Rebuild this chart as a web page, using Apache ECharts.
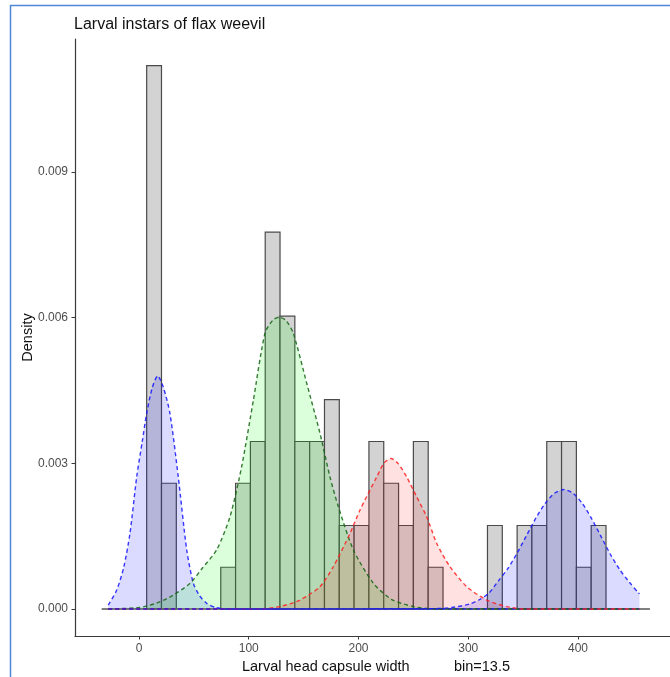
<!DOCTYPE html>
<html>
<head>
<meta charset="utf-8">
<script src="https://cdn.jsdelivr.net/npm/echarts@6/dist/echarts.min.js"></script>
<style>
  html, body { margin: 0; padding: 0; background: #ffffff; }
  #chart { width: 670px; height: 677px; }
</style>
</head>
<body>
<div id="chart"></div>
<script>
// Histogram of larval head capsule widths (density scale, bin width 13.5)
const binStart = 7;
const binWidth = 13.5;
const histDensity = [
  0.01119, 0.00259, 0, 0, 0, 0.00086, 0.00259, 0.00345, 0.00776, 0.00603,
  0.00345, 0.00345, 0.00431, 0.00172, 0.00172, 0.00345, 0.00259, 0.00172, 0.00345, 0.00086,
  0, 0, 0, 0.00172, 0, 0.00172, 0.00172, 0.00345, 0.00345, 0.00086,
  0.00172
];

// Instar density curves (x = capsule width, y = density)
const instar1X = [-28, -20.3, -14, -8.2, -2.1, 3, 7, 12, 17, 22, 28.2, 35.8, 43.5, 49.5, 55, 61.7, 70, 80, 456];
const instar1Y = [0.00008, 0.00039, 0.00085, 0.00156, 0.00272, 0.00345, 0.00403, 0.00455, 0.00480,
  0.00458, 0.00403, 0.00272, 0.001215, 0.00053, 0.00028, 0.000117, 0.00003, 0, 0];

const instar2X = [-28, 0, 16, 30, 46.5, 58, 70.8, 82.9, 93.5, 104.2, 114.8, 122, 128, 134, 140.6, 152.8, 164.9, 174, 181.6, 195.3, 213.5, 230, 250, 270, 456];
const instar2Y = [0, 0.00003, 0.00012, 0.00027, 0.00053, 0.00085, 0.00122, 0.00190, 0.00293, 0.00430, 0.00568, 0.00595, 0.00601,
  0.00594, 0.00568, 0.00465, 0.00362, 0.00272, 0.00211, 0.00122, 0.00053, 0.00020, 0.00005, 0, 0];

const instar3X = [-28, 110, 130, 146.7, 164.9, 177, 192.3, 201.4, 216.6, 223, 229.6, 236, 243.9, 253, 262.1, 271.3, 283.4, 298.6, 316.8, 335, 350, 456];
const instar3Y = [0, 0, 0.00006, 0.000185, 0.00046, 0.00087, 0.00156, 0.00204, 0.00272, 0.00300, 0.00310,
  0.00300, 0.00272, 0.00231, 0.00190, 0.00135, 0.00087, 0.00046, 0.000185, 0.00005, 0, 0];

const instar4X = [-28, 268, 285, 302, 310.5, 319, 327.5, 336, 344.5, 353, 361.5, 370, 378.5, 387, 395.5, 404, 412.5, 421, 429.5, 438, 446.5, 455, 456];
const instar4Y = [0, 0.000007, 0.000031, 0.000108, 0.000196, 0.000333, 0.000580, 0.000830, 0.001150, 0.001510, 0.001870, 0.002171, 0.002384, 0.00246,
  0.002384, 0.002171, 0.001857, 0.001492, 0.001126, 0.000810, 0.000560, 0.000333, 0.000313];

const baselineX = [-34, 465.5];

const xTicks = [0, 100, 200, 300, 400];
const yTicks = [0, 0.003, 0.006, 0.009];

const zip = (xs, ys) => xs.map((x, i) => [x, ys[i]]);

const histData = histDensity
  .map((d, i) => [binStart + i * binWidth, binStart + (i + 1) * binWidth, d])
  .filter(r => r[2] > 0);

function curveSeries(name, xs, ys, lineColor, fillColor) {
  return {
    name: name,
    type: 'line',
    data: zip(xs, ys),
    showSymbol: false,
    symbol: 'none',
    smooth: 0.25,
    lineStyle: { color: lineColor, width: 1.4, type: [4, 3] },
    areaStyle: { color: fillColor, origin: 0 },
    silent: true,
    z: 3
  };
}

const chart = echarts.init(document.getElementById('chart'), null, { renderer: 'canvas' });

chart.setOption({
  animation: false,
  backgroundColor: '#ffffff',
  title: {
    text: 'Larval instars of flax weevil',
    left: 69,
    top: 12,
    textStyle: { fontFamily: 'Liberation Sans', fontSize: 16, fontWeight: 'normal', color: '#111' }
  },
  grid: {
    left: 75, right: 0, top: 39, bottom: 41,
    containLabel: false,
    outerBoundsMode: 'none'
  },
  xAxis: {
    type: 'value',
    min: -58.3,
    max: 483.8,
    name: 'Larval head capsule width           bin=13.5',
    nameLocation: 'middle',
    nameGap: 23,
    nameMoveOverlap: false,
    nameTextStyle: { fontFamily: 'Liberation Sans', fontSize: 14.5, color: '#111', padding: [0, 0, 0, 7] },
    axisLine: { show: true, onZero: false, lineStyle: { color: '#3a3a3a', width: 1.2 } },
    axisTick: { show: true, length: 3.5, customValues: xTicks, lineStyle: { color: '#3a3a3a', width: 1 } },
    axisLabel: { customValues: xTicks, margin: 7, fontFamily: 'Liberation Sans', fontSize: 12, color: '#4d4d4d' },
    splitLine: { show: false }
  },
  yAxis: {
    type: 'value',
    min: -0.000556,
    max: 0.011739,
    name: 'Density',
    nameLocation: 'middle',
    nameGap: 40,
    nameRotate: 90,
    nameMoveOverlap: false,
    nameTextStyle: { fontFamily: 'Liberation Sans', fontSize: 14.5, color: '#111' },
    axisLine: { show: true, onZero: false, lineStyle: { color: '#3a3a3a', width: 1.2 } },
    axisTick: { show: true, length: 3.5, customValues: yTicks, lineStyle: { color: '#3a3a3a', width: 1 } },
    axisLabel: {
      customValues: yTicks, margin: 7, fontFamily: 'Liberation Sans', fontSize: 12, color: '#4d4d4d',
      formatter: v => v.toFixed(3)
    },
    splitLine: { show: false }
  },
  graphic: [
    { type: 'line', shape: { x1: 10.5, y1: 5, x2: 10.5, y2: 677 }, style: { stroke: '#4f86d9', lineWidth: 1.5 }, silent: true },
    { type: 'line', shape: { x1: 10, y1: 5.5, x2: 670, y2: 5.5 }, style: { stroke: '#4f86d9', lineWidth: 1.5 }, silent: true }
  ],
  series: [
    {
      name: 'histogram',
      type: 'custom',
      data: histData,
      encode: { x: [0, 1], y: 2 },
      silent: true,
      z: 1,
      renderItem: function (params, api) {
        const p0 = api.coord([api.value(0), api.value(2)]);
        const p1 = api.coord([api.value(1), 0]);
        return {
          type: 'rect',
          shape: { x: p0[0], y: p0[1], width: p1[0] - p0[0], height: p1[1] - p0[1] },
          style: { fill: '#d3d3d3', stroke: '#4a4a4a', lineWidth: 1.2 }
        };
      }
    },
    {
      name: 'baseline',
      type: 'line',
      data: zip(baselineX, [0, 0]),
      symbol: 'none',
      lineStyle: { color: '#555555', width: 1.6 },
      silent: true,
      z: 2
    },
    curveSeries('instar I', instar1X, instar1Y, 'rgba(20,20,255,0.85)', 'rgba(0,0,255,0.2)'),
    curveSeries('instar II', instar2X, instar2Y, 'rgba(20,100,20,0.85)', 'rgba(0,255,0,0.2)'),
    curveSeries('instar III', instar3X, instar3Y, 'rgba(255,30,30,0.85)', 'rgba(255,0,0,0.17)'),
    curveSeries('instar IV', instar4X, instar4Y, 'rgba(20,20,255,0.85)', 'rgba(0,0,255,0.2)')
  ]
});
</script>
</body>
</html>
